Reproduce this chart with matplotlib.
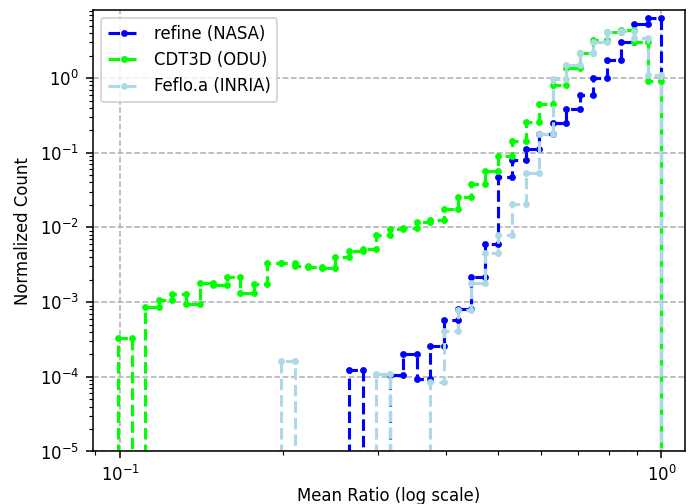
import numpy as np
import matplotlib
matplotlib.use("Agg")
import matplotlib.pyplot as plt

plt.rcParams['font.size'] = 8.5

# shared log-spaced bin edges (40 bins)
edges = np.logspace(-1.0037, 0, 41)

# normalized counts per bin (0 = empty bin)
refine = [0, 0, 0, 0, 0, 0, 0, 0, 0, 0,
          0, 0, 0, 0, 0, 0, 0, 1.25e-4, 0, 0,
          1.05e-4, 2.0e-4, 9.4e-5, 2.6e-4, 5.8e-4, 8.0e-4, 2.2e-3, 6.0e-3, 4.75e-2, 8.0e-2,
          0.114, 0.178, 0.25, 0.39, 0.59, 1.01, 1.74, 3.07, 5.3, 6.3]
cdt3d = [3.3e-4, 0, 8.6e-4, 1.06e-3, 1.27e-3, 9.5e-4, 1.8e-3, 1.7e-3, 2.2e-3, 1.32e-3,
         1.77e-3, 3.34e-3, 3.34e-3, 3.0e-3, 2.95e-3, 2.9e-3, 4.0e-3, 4.8e-3, 5.2e-3, 7.9e-3,
         9.5e-3, 9.7e-3, 1.2e-2, 1.26e-2, 1.79e-2, 2.57e-2, 3.85e-2, 5.7e-2, 9.1e-2, 0.145,
         0.255, 0.448, 0.805, 1.35, 2.14, 3.24, 4.2, 4.35, 3.07, 0.92]
feflo = [0, 0, 0, 0, 0, 0, 0, 0, 0, 0,
         0, 0, 1.62e-4, 0, 0, 0, 0, 0, 0, 1.1e-4,
         0, 0, 0, 8.5e-5, 4.1e-4, 7.9e-4, 1.78e-3, 4.6e-3, 7.9e-3, 2.09e-2,
         5.3e-2, 0.18, 0.97, 1.49, 2.19, 3.0, 4.17, 4.3, 3.4, 1.1]

labels = ['refine (NASA)', 'CDT3D (ODU)', 'Feflo.a (INRIA)']
colors = ['blue', 'lime', 'lightblue']


def outline(counts):
    # histogram outline: a point at both ends of every bin top
    xs = [edges[0]]
    ys = [0.0]
    for i, c in enumerate(counts):
        xs += [edges[i], edges[i + 1]]
        ys += [c, c]
    xs.append(edges[-1])
    ys.append(0.0)
    return xs, ys


fig = plt.figure(figsize=(4.95, 3.6), dpi=140)
ax = fig.add_axes([0.1338, 0.1042, 0.988 - 0.1338, 0.9802 - 0.1042])

for counts, lab, col in zip([refine, cdt3d, feflo], labels, colors):
    xs, ys = outline(counts)
    ax.plot(xs, ys, '--.', color=col, label=lab, lw=1.6, ms=5)

ax.set_xscale('log')
ax.set_yscale('log')
ax.set_xlim(10 ** -1.0505, 10 ** 0.043)
ax.set_ylim(1e-5, 8.16)
ax.grid(True, which='major', linestyle='--', color='#b0b0b0')
ax.set_xlabel('Mean Ratio (log scale)', labelpad=1)
ax.set_ylabel('Normalized Count')
ax.legend(loc='upper left')

fig.savefig('out.png', dpi=140)
